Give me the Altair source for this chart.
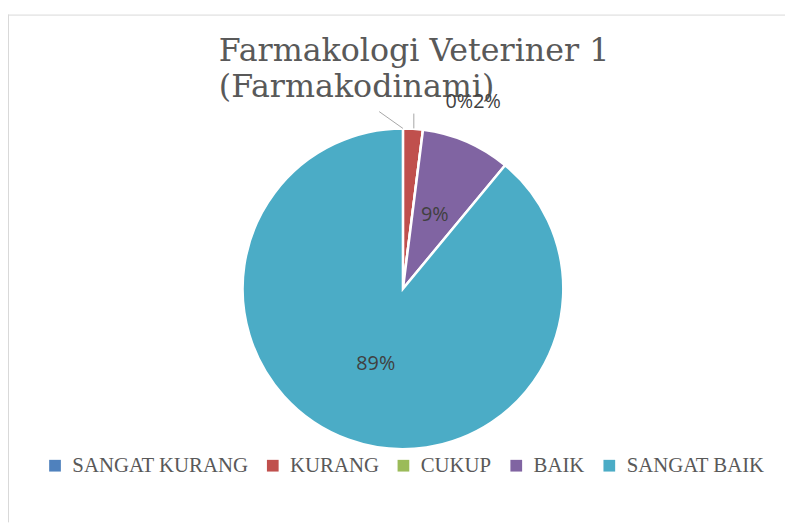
import altair as alt
import pandas as pd

# ---- data ----
categories = ["SANGAT KURANG", "KURANG", "CUKUP", "BAIK", "SANGAT BAIK"]
percents = [0, 2, 0, 9, 89]
colors = ["#4F81BD", "#C0504D", "#9BBB59", "#8064A2", "#4BACC6"]
title_lines = ["Farmakologi Veteriner 1", "(Farmakodinami)"]

df = pd.DataFrame({
    "kategori": categories,
    "persen": percents,
    "urut": list(range(len(categories))),
})

CX, CY, R = 399, 281, 162

base = alt.Chart(df).transform_window(
    cum="sum(persen)", sort=[alt.SortField("urut")], frame=[None, 0]
).transform_calculate(
    mid="datum.cum - datum.persen / 2",
    label="datum.persen + '%'",
)

color = alt.Color(
    "kategori:N",
    scale=alt.Scale(domain=categories, range=colors),
    legend=alt.Legend(
        orient="none", legendX=37, legendY=449, direction="horizontal", columns=5,
        title=None, symbolType="square", symbolSize=140, symbolStrokeWidth=0,
        symbolOpacity=1, labelFont="Liberation Serif", labelFontSize=21,
        labelColor="#595959", columnPadding=14, labelOffset=7, labelLimit=0,
    ),
)

pie = alt.Chart(df).mark_arc(outerRadius=R, stroke="white", strokeWidth=2.5).encode(
    theta=alt.Theta("persen:Q", stack=True, scale=alt.Scale(domain=[0, 100])),
    order=alt.Order("urut:Q"),
    color=color,
    x=alt.value(CX), y=alt.value(CY),
)

inner = base.mark_text(radius=81, font="Open Sans", fontSize=20, color="#404040").encode(
    theta=alt.Theta("mid:Q", scale=alt.Scale(domain=[0, 100])),
    text="label:N",
    x=alt.value(CX), y=alt.value(CY),
).transform_filter(alt.datum.persen >= 5)

small0 = base.mark_text(font="Open Sans", fontSize=20, color="#404040", align="center").encode(
    text="label:N", x=alt.value(456), y=alt.value(92),
).transform_filter(alt.datum.urut == 0)

small1 = base.mark_text(font="Open Sans", fontSize=20, color="#404040", align="center").encode(
    text="label:N", x=alt.value(484), y=alt.value(92),
).transform_filter(alt.datum.urut == 1)

one = alt.Chart(pd.DataFrame({"a": [0]}))
lead1 = one.mark_rule(color="#a6a6a6", strokeWidth=1).encode(
    x=alt.value(375), y=alt.value(102), x2=alt.value(399), y2=alt.value(119))
lead2 = one.mark_rule(color="#a6a6a6", strokeWidth=1).encode(
    x=alt.value(410), y=alt.value(104), x2=alt.value(410), y2=alt.value(119))

border_top = one.mark_rule(color="#d9d9d9", strokeWidth=1).encode(
    x=alt.value(0), x2=alt.value(785), y=alt.value(4.5))
border_left = one.mark_rule(color="#d9d9d9", strokeWidth=1).encode(
    x=alt.value(0.5), y=alt.value(4), y2=alt.value(517))

title = one.mark_text(
    align="left", baseline="alphabetic", font="DejaVu Serif", fontSize=32,
    color="#595959", lineHeight=36,
).encode(text=alt.value(title_lines), x=alt.value(213), y=alt.value(51))

chart = alt.layer(
    border_top, border_left, title, pie, inner, lead1, lead2, small0, small1
).properties(
    width=785, height=517, autosize=alt.AutoSizeParams(type="none"), padding=0,
    background="white",
).configure_view(stroke=None)

chart.save("out.html", embed_options={"renderer": "svg", "actions": False})
